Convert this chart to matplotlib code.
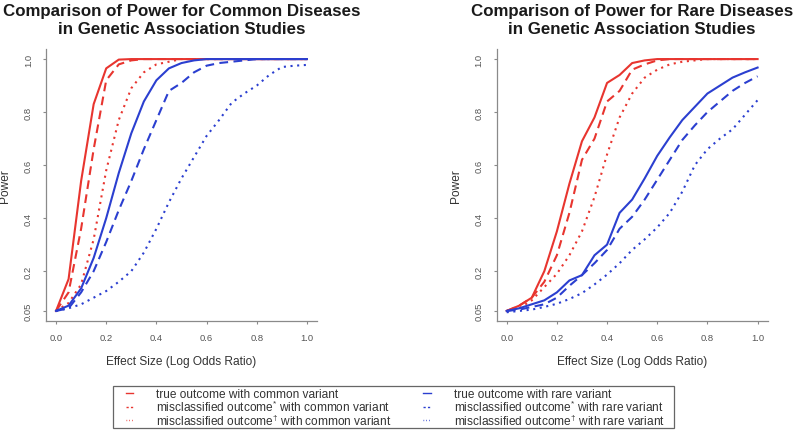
import matplotlib
matplotlib.use('Agg')
import matplotlib.pyplot as plt
from matplotlib.lines import Line2D
from matplotlib.patches import Rectangle

plt.rcParams['font.family'] = ['Liberation Sans', 'DejaVu Sans']
plt.rcParams['mathtext.fontset'] = 'custom'
plt.rcParams['mathtext.rm'] = 'Liberation Sans'
plt.rcParams['mathtext.it'] = 'Liberation Sans'

# effect size grid (log odds ratio)
effect = [0.0, 0.05, 0.1, 0.15, 0.2, 0.25, 0.3, 0.35, 0.4, 0.45, 0.5,
          0.55, 0.6, 0.65, 0.7, 0.75, 0.8, 0.85, 0.9, 0.95, 1.0]

# common diseases
common_true_cv = [0.05, 0.17, 0.54, 0.83, 0.965, 0.998, 1.0, 1.0, 1.0, 1.0, 1.0,
                  1.0, 1.0, 1.0, 1.0, 1.0, 1.0, 1.0, 1.0, 1.0, 1.0]
common_mis1_cv = [0.05, 0.12, 0.36, 0.66, 0.92, 0.98, 0.995, 1.0, 1.0, 1.0, 1.0,
                  1.0, 1.0, 1.0, 1.0, 1.0, 1.0, 1.0, 1.0, 1.0, 1.0]
common_mis2_cv = [0.05, 0.08, 0.15, 0.32, 0.58, 0.77, 0.89, 0.95, 0.98, 0.99, 1.0,
                  1.0, 1.0, 1.0, 1.0, 1.0, 1.0, 1.0, 1.0, 1.0, 1.0]
common_true_rv = [0.05, 0.07, 0.135, 0.25, 0.40, 0.57, 0.72, 0.84, 0.92, 0.965, 0.985,
                  0.995, 1.0, 1.0, 1.0, 1.0, 1.0, 1.0, 1.0, 1.0, 1.0]
common_mis1_rv = [0.05, 0.06, 0.12, 0.2, 0.31, 0.43, 0.54, 0.66, 0.77, 0.88, 0.91,
                  0.95, 0.975, 0.985, 0.99, 0.995, 1.0, 1.0, 1.0, 1.0, 1.0]
common_mis2_rv = [0.05, 0.06, 0.075, 0.1, 0.125, 0.16, 0.2, 0.27, 0.36, 0.46, 0.55,
                  0.63, 0.71, 0.77, 0.835, 0.87, 0.9, 0.94, 0.97, 0.975, 0.978]

# rare diseases
rare_true_cv = [0.05, 0.07, 0.1, 0.2, 0.35, 0.53, 0.69, 0.78, 0.91, 0.94, 0.985,
                0.995, 1.0, 1.0, 1.0, 1.0, 1.0, 1.0, 1.0, 1.0, 1.0]
rare_mis1_cv = [0.05, 0.07, 0.1, 0.16, 0.26, 0.42, 0.62, 0.70, 0.84, 0.88, 0.96,
                0.98, 0.995, 1.0, 1.0, 1.0, 1.0, 1.0, 1.0, 1.0, 1.0]
rare_mis2_cv = [0.05, 0.06, 0.09, 0.14, 0.19, 0.26, 0.35, 0.48, 0.64, 0.78, 0.87,
                0.93, 0.96, 0.98, 0.99, 0.995, 1.0, 1.0, 1.0, 1.0, 1.0]
rare_true_rv = [0.05, 0.06, 0.075, 0.09, 0.12, 0.165, 0.185, 0.26, 0.30, 0.42, 0.47,
                0.55, 0.635, 0.705, 0.77, 0.82, 0.87, 0.9, 0.93, 0.95, 0.968]
rare_mis1_rv = [0.05, 0.055, 0.065, 0.075, 0.1, 0.145, 0.185, 0.23, 0.28, 0.36, 0.405,
                0.47, 0.545, 0.62, 0.695, 0.75, 0.8, 0.84, 0.88, 0.91, 0.935]
rare_mis2_rv = [0.045, 0.05, 0.055, 0.065, 0.077, 0.095, 0.117, 0.15, 0.187, 0.23, 0.28,
                0.32, 0.365, 0.42, 0.5, 0.6, 0.66, 0.7, 0.735, 0.79, 0.845]

y_ticks = [0.05, 0.2, 0.4, 0.6, 0.8, 1.0]
y_ticklabels = ['0.05', '0.2', '0.4', '0.6', '0.8', '1.0']
x_ticks = [0.0, 0.2, 0.4, 0.6, 0.8, 1.0]

legend_labels = [
    'true outcome with common variant',
    r'misclassified outcome$^{*}$ with common variant',
    r'misclassified outcome$^{\dagger}$ with common variant',
    'true outcome with rare variant',
    r'misclassified outcome$^{*}$ with rare variant',
    r'misclassified outcome$^{\dagger}$ with rare variant',
]

RED = '#e8352f'
BLUE = '#2b3fd0'
SOLID = '-'
DASHED = (0, (4.2, 2.6))
DOTTED = (0, (1.0, 2.2))
GRAY = '#8a8a8a'

fig = plt.figure(figsize=(7.93, 4.39), dpi=100)


def draw_panel(ax, series, title):
    styles = [(RED, SOLID), (RED, DASHED), (RED, DOTTED),
              (BLUE, SOLID), (BLUE, DASHED), (BLUE, DOTTED)]
    for vals, (col, ls) in zip(series, styles):
        ax.plot(effect, vals, color=col, linestyle=ls, lw=1.5)
    ax.set_xlim(-0.04, 1.04)
    ax.set_ylim(0.012, 1.038)
    ax.set_xticks(x_ticks)
    ax.set_xticklabels(['%.1f' % t for t in x_ticks])
    ax.set_yticks(y_ticks)
    ax.set_yticklabels(y_ticklabels, rotation=90, va='center')
    for s in ['top', 'right']:
        ax.spines[s].set_visible(False)
    for s in ['left', 'bottom']:
        ax.spines[s].set_color(GRAY)
        ax.spines[s].set_linewidth(0.9)
    ax.tick_params(length=2.5, width=0.8, color=GRAY, labelcolor='#555555',
                   labelsize=6.8)
    ax.tick_params(axis='x', pad=6)
    ax.tick_params(axis='y', pad=7)
    ax.text(0.5, -0.147, 'Effect Size (Log Odds Ratio)', transform=ax.transAxes,
            ha='center', va='center', fontsize=8.6, color='#333333')
    ax.text(-0.151, 0.5, 'Power', transform=ax.transAxes, rotation=90,
            ha='center', va='center', fontsize=8.6, color='#333333')
    ax.text(0.5, 1.110, title, transform=ax.transAxes, ha='center', va='center',
            fontsize=12.2, fontweight='bold', linespacing=1.25, color='#1a1a1a')


ax1 = fig.add_axes([0.058, 0.2665, 0.3417, 0.6196])
draw_panel(ax1, [common_true_cv, common_mis1_cv, common_mis2_cv,
                 common_true_rv, common_mis1_rv, common_mis2_rv],
           'Comparison of Power for Common Diseases\nin Genetic Association Studies')

ax2 = fig.add_axes([0.6263, 0.2665, 0.3417, 0.6196])
draw_panel(ax2, [rare_true_cv, rare_mis1_cv, rare_mis2_cv,
                 rare_true_rv, rare_mis1_rv, rare_mis2_rv],
           'Comparison of Power for Rare Diseases\nin Genetic Association Studies')

# legend: entries without frame, box drawn separately
handle_styles = [(RED, SOLID), (RED, (0, (1.6, 1.6))), (RED, (0, (0.5, 1.5))),
                 (BLUE, SOLID), (BLUE, (0, (1.6, 1.6))), (BLUE, (0, (0.5, 1.5)))]
handles = [Line2D([], [], color=c, linestyle=ls, lw=1.0) for c, ls in handle_styles]
leg = fig.legend(handles, legend_labels, ncol=2, loc='upper left',
                 bbox_to_anchor=(126 / 793, 1 - 389 / 439), fontsize=8.6,
                 frameon=False, handlelength=0.6, handletextpad=1.95,
                 columnspacing=2.65, labelspacing=-0.12, borderpad=0.0,
                 borderaxespad=0.0)
for t in leg.get_texts():
    t.set_color('#333333')

fig.add_artist(Rectangle((113 / 793, 1 - 429 / 439), 561 / 793, 42 / 439,
                         transform=fig.transFigure, fill=False,
                         edgecolor='#666666', lw=0.9))

fig.savefig('out.png', dpi=100)
